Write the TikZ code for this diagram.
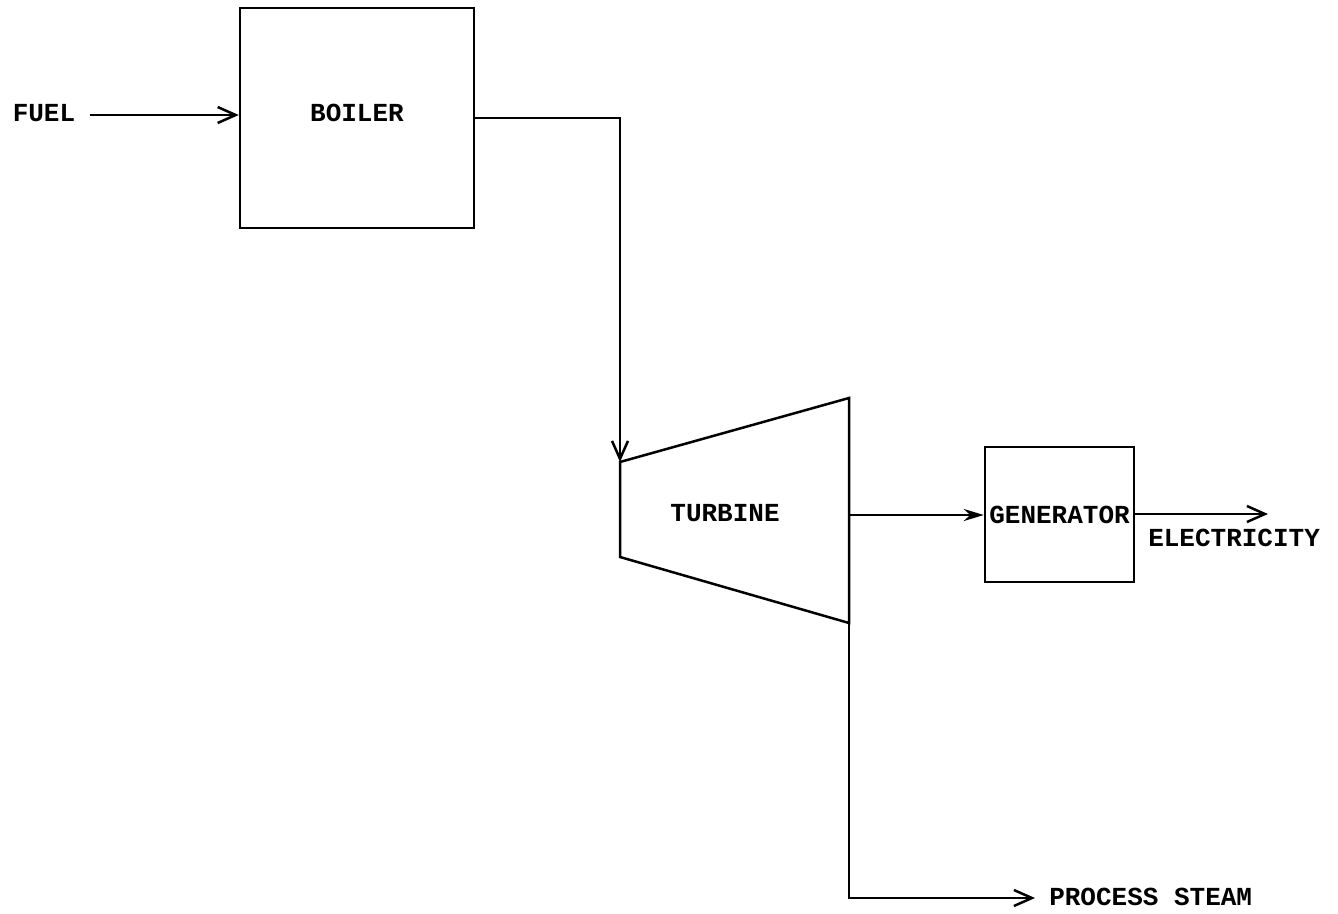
\documentclass[tikz,border=0pt]{standalone}
\usepackage{fontspec}
\setmonofont{Liberation Mono}
\usetikzlibrary{arrows.meta}
\begin{document}
\begin{tikzpicture}[x=1pt,y=-1pt,
  line width=2.5pt,
  lbl/.style={font=\fontsize{26}{28}\selectfont\ttfamily\bfseries, inner sep=0pt},
  blk/.style={draw, line width=2.5pt, inner sep=0pt, font=\fontsize{26}{28}\selectfont\ttfamily\bfseries},
  flow/.style={-{Straight Barb[length=18pt,width=16pt,line width=2.5pt]}},
  fflow/.style={-{Stealth[length=20pt,width=12pt]}}]
\useasboundingbox (0,0) rectangle (1338,913);
% nodes
\node[lbl] (fuel) at (44,113) {FUEL};
\node[blk, minimum width=234pt, minimum height=220pt] (boiler) at (357,118) {};
\node[lbl] (boilertxt) at (357,113) {BOILER};
\coordinate (fs) at (90,115);
\coordinate (tl) at (620,462);
\coordinate (tr) at (849,398);
\coordinate (br) at (849,623);
\coordinate (bl) at (620,557);
\draw (tl) -- (tr) -- (br) -- (bl) -- cycle;
\node[lbl] (turbine) at (725,513) {TURBINE};
\coordinate (tout) at (849,515);
\node[blk, minimum width=149pt, minimum height=135pt] (gen) at (1059.5,514.5) {GENERATOR};
\node[lbl, anchor=west] (elec) at (1147,538) {ELECTRICITY};
\coordinate (eend) at (1268,514);
\coordinate (sbot) at (849,898);
\node[lbl, anchor=west] (steam) at (1048,897) {PROCESS STEAM};
% connectors
\draw[flow] (fs) -- (fs -| boiler.west);
\draw[flow] (boiler.east) -| (tl);
\draw[fflow] (tout) -- (tout -| gen.west);
\draw[flow] (gen.east |- eend) -- (eend);
\draw[flow] (br) -- (sbot) -- ([xshift=-13pt]steam.west |- sbot);
\end{tikzpicture}
\end{document}
